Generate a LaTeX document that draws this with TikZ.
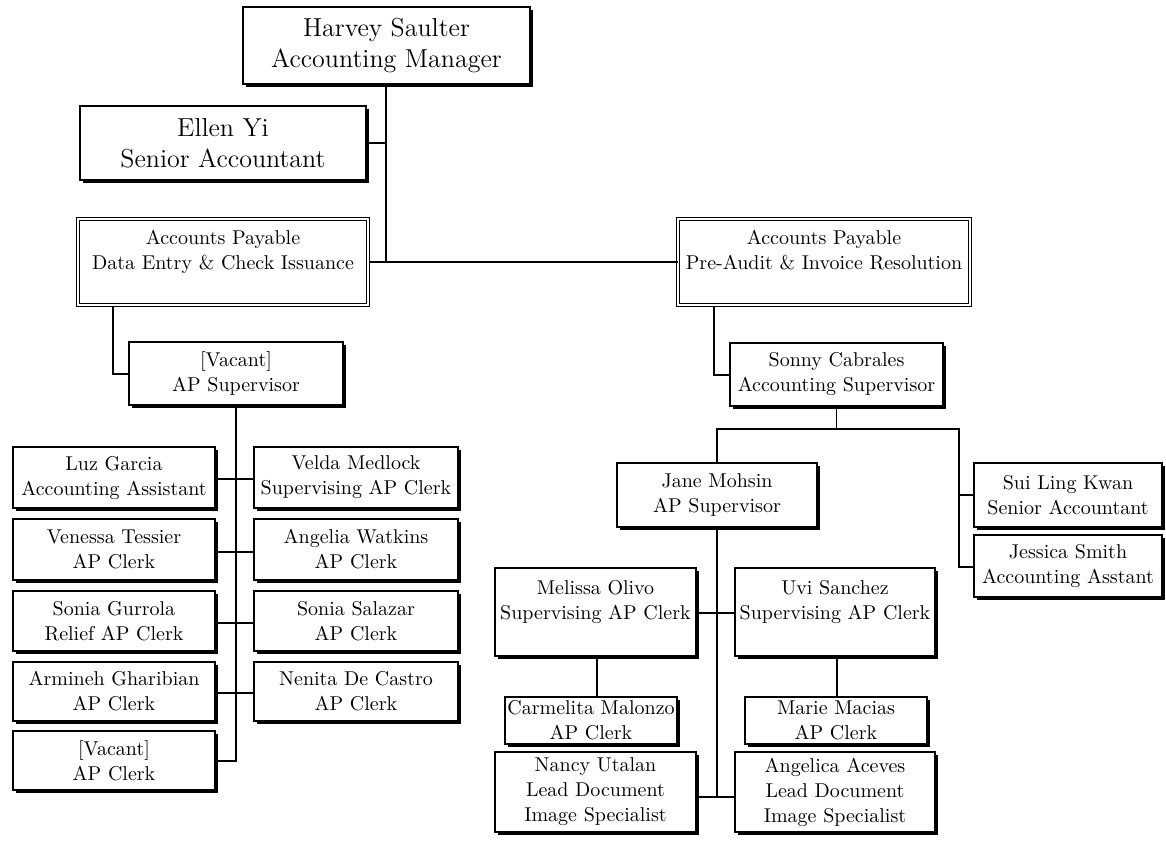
\documentclass[tikz,border=0pt]{standalone}
\usetikzlibrary{fit,shadows}
\newcommand{\orgbox}[5][box]{%
  \node[#1, fit={(#3)(#4)}] (#2) {};
  \node[txt, font=\csname fnt#1\endcsname] (#2-t) at (#2.center) {#5};}
\newcommand{\fntbox}{\fontsize{10}{12.5}\selectfont}
\newcommand{\fntbigbox}{\fontsize{13}{15.5}\selectfont}
\newcommand{\fntdept}{\fontsize{10}{12.5}\selectfont}
\begin{document}
\begin{tikzpicture}[x=0.5pt,y=-0.5pt,
  box/.style={draw, line width=0.9pt, fill=white, inner sep=0pt,
    drop shadow={opacity=1, fill=black, shadow xshift=1.5pt, shadow yshift=-1.5pt}},
  bigbox/.style={box},
  dept/.style={draw, fill=white, inner sep=0pt, double, line width=0.5pt, double distance=1.1pt,
    drop shadow={opacity=1, fill=black, shadow xshift=0.9pt, shadow yshift=-0.9pt}},
  txt/.style={inner sep=0pt, align=center},
  link/.style={line width=0.75pt}]
\useasboundingbox (0,0) rectangle (1166,841);
% top
\orgbox[bigbox]{harvey}{243,7}{530,84}{Harvey Saulter\\Accounting Manager}
\orgbox[bigbox]{ellen}{80,106}{366,180}{Ellen Yi\\Senior Accountant}
\orgbox[dept]{dept1}{78,219}{368,305}{Accounts Payable\\Data Entry \& Check Issuance\\~}
\orgbox[dept]{dept2}{678,219}{970,305}{Accounts Payable\\Pre-Audit \& Invoice Resolution\\~}
% left branch
\orgbox{vacsup}{129,342}{343,405}{[Vacant]\\AP Supervisor}
\orgbox{luz}{13,447}{215,508}{Luz Garcia\\Accounting Assistant}
\orgbox{venessa}{13,519}{215,580}{Venessa Tessier\\AP Clerk}
\orgbox{soniag}{13,591}{215,651}{Sonia Gurrola\\Relief AP Clerk}
\orgbox{armineh}{13,662}{215,721}{Armineh Gharibian\\AP Clerk}
\orgbox{vacclerk}{13,731}{215,790}{[Vacant]\\AP Clerk}
\orgbox{velda}{254,447}{458,508}{Velda Medlock\\Supervising AP Clerk}
\orgbox{angelia}{254,519}{458,580}{Angelia Watkins\\AP Clerk}
\orgbox{sonias}{254,591}{458,651}{Sonia Salazar\\AP Clerk}
\orgbox{nenita}{254,662}{458,721}{Nenita De Castro\\AP Clerk}
% right branch
\orgbox{sonny}{730,343}{943,406}{Sonny Cabrales\\Accounting Supervisor}
\orgbox{jane}{617,463}{817,527}{Jane Mohsin\\AP Supervisor}
\orgbox{sui}{974,463}{1162,527}{Sui Ling Kwan\\Senior Accountant}
\orgbox{jessica}{974,535}{1162,597}{Jessica Smith\\Accounting Asstant}
\orgbox{melissa}{495,568}{696,656}{Melissa Olivo\\Supervising AP Clerk\\~}
\orgbox{uvi}{735,568}{935,656}{Uvi Sanchez\\Supervising AP Clerk\\~}
\orgbox{carmelita}{505,697}{677,744}{Carmelita Malonzo\\AP Clerk}
\orgbox{marie}{745,697}{927,744}{Marie Macias\\AP Clerk}
\orgbox{nancy}{495,752}{696,832}{Nancy Utalan\\Lead Document\\Image Specialist}
\orgbox{angelica}{735,752}{935,832}{Angelica Aceves\\Lead Document\\Image Specialist}
% coordinates
\coordinate (hj) at (386,262);
\coordinate (ej) at (386,143);
\coordinate (d1j) at (113,374);
\coordinate (vj) at (236,761);
\coordinate (d2j) at (714,375);
\coordinate (sl) at (717,429);
\coordinate (sr) at (959,429);
\coordinate (srb) at (959,567);
\coordinate (jb) at (717,797);
% connectors
\draw[link] (harvey.south -| hj) -- (hj);
\draw[link] (ellen.east |- ej) -- (ej);
\draw[link] (dept1.east |- hj) -- (dept2.west |- hj);
\draw[link] (dept1.south -| d1j) -- (d1j) -- (vacsup.west |- d1j);
\draw[link] (vacsup.south -| vj) -- (vj) -- (vacclerk.east |- vj);
\draw[link] (luz.east |- 0,479) -- (velda.west |- 0,479);
\draw[link] (venessa.east |- 0,552) -- (angelia.west |- 0,552);
\draw[link] (soniag.east |- 0,623) -- (sonias.west |- 0,623);
\draw[link] (armineh.east |- 0,693) -- (nenita.west |- 0,693);
\draw[link] (dept2.south -| d2j) -- (d2j) -- (sonny.west |- d2j);
\draw[link] (sonny.south) -- (sonny.south |- sl);
\draw[link] (jane.north -| sl) -- (sl) -- (sr) -- (srb) -- (jessica.west |- srb);
\draw[link] (sr |- sui.west) -- (sui.west);
\draw[link] (jane.south) -- (jb);
\draw[link] (melissa.east |- 0,613) -- (uvi.west |- 0,613);
\draw[link] (nancy.east |- jb) -- (angelica.west |- jb);
\draw[link] (melissa.south -| 597,0) -- (carmelita.north -| 597,0);
\draw[link] (uvi.south -| 837,0) -- (marie.north -| 837,0);
\end{tikzpicture}
\end{document}
